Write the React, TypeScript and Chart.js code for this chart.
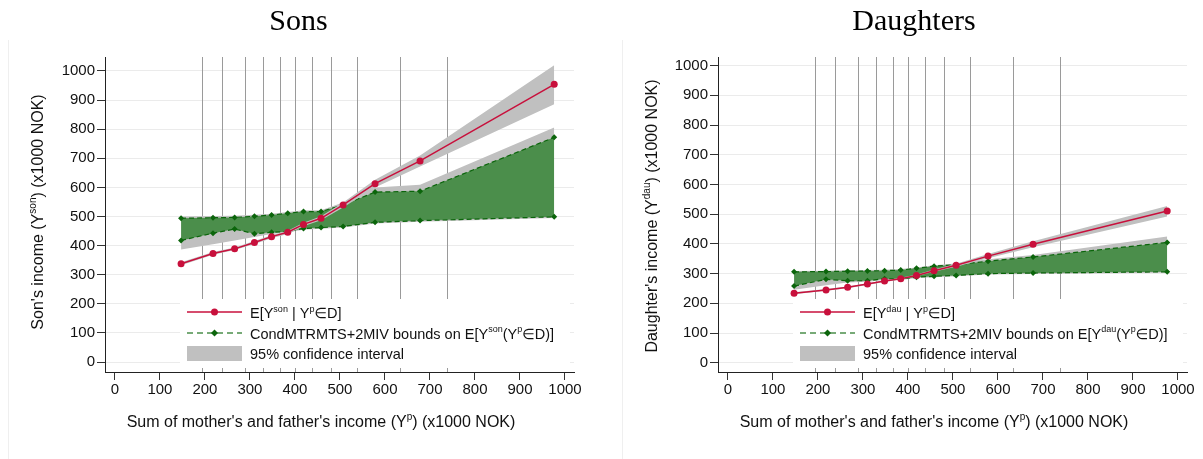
import React, { useEffect, useRef } from "react";
import { Chart, registerables } from "chart.js";

Chart.register(...registerables);

// ---------- data ----------
const parentIncome = [147, 218, 266, 310, 348, 384, 419, 458, 507, 578, 678, 976];
const binEdges = [193, 238, 289, 330, 367, 400, 438, 481, 538, 633, 738];
const axisTicks = [0, 100, 200, 300, 400, 500, 600, 700, 800, 900, 1000];

const sonMean = [338, 373, 389, 411, 431, 446, 473, 494, 540, 613, 691, 954];
const sonMeanCiLo = [333, 369, 385, 406, 425, 440, 467, 487, 531, 600, 672, 886];
const sonMeanCiHi = [343, 378, 394, 416, 436, 451, 479, 501, 548, 626, 710, 1020];
const sonBoundUpper = [494, 496, 497, 501, 505, 511, 517, 517, 540, 584, 587, 772];
const sonBoundLower = [418, 443, 457, 441, 446, 448, 459, 462, 466, 480, 486, 499];
const sonBoundCiHi = [500, 502, 503, 506, 510, 516, 522, 522, 548, 600, 609, 806];
const sonBoundCiLo = [387, 405, 418, 430, 440, 446, 455, 458, 462, 476, 482, 495];

const dauMean = [234, 245, 254, 265, 275, 283, 294, 310, 328, 359, 399, 511];
const dauMeanCiLo = [231, 242, 251, 262, 272, 280, 291, 306, 323, 352, 389, 492];
const dauMeanCiHi = [237, 248, 257, 268, 278, 286, 297, 314, 333, 366, 409, 528];
const dauBoundUpper = [306, 307, 308, 309, 310, 312, 318, 325, 330, 342, 356, 405];
const dauBoundLower = [258, 281, 276, 276, 283, 282, 288, 291, 294, 300, 302, 306];
const dauBoundCiHi = [309, 310, 311, 312, 313, 316, 321, 328, 334, 348, 363, 425];
const dauBoundCiLo = [246, 261, 270, 273, 279, 279, 285, 288, 291, 297, 299, 303];

// ---------- styles ----------
const FONT = '"Liberation Sans", "DejaVu Sans", Arial, sans-serif';
const SERIF = '"Liberation Serif", "DejaVu Serif", "Times New Roman", serif';
const RED = "#c8103c";
const GREEN_FILL = "#4b8e4b";
const GREEN_LINE = "#0b650b";
const CI_GRAY = "#c0c0c0";
const TEXT = "#111111";

type Seg = { t: string; sup?: boolean };

function segFont(size: number, sup: boolean) {
  return `${sup ? Math.round(size * 0.62) : size}px ${FONT}`;
}
function measureSegs(ctx: CanvasRenderingContext2D, segs: Seg[], size: number) {
  let w = 0;
  for (const s of segs) {
    ctx.font = segFont(size, !!s.sup);
    w += ctx.measureText(s.t).width;
  }
  return w;
}
function drawSegs(
  ctx: CanvasRenderingContext2D,
  segs: Seg[],
  x: number,
  y: number,
  size: number,
  align: "left" | "center"
) {
  const total = measureSegs(ctx, segs, size);
  let cx = align === "center" ? x - total / 2 : x;
  ctx.textAlign = "left";
  ctx.textBaseline = "alphabetic";
  for (const s of segs) {
    ctx.font = segFont(size, !!s.sup);
    ctx.fillText(s.t, cx, s.sup ? y - size * 0.42 : y);
    cx += ctx.measureText(s.t).width;
  }
}

interface PanelSpec {
  width: number;
  yAxisWidth: number;
  rightPad: number;
  yMin: number;
  yMax: number;
  title: string;
  titleX: number;
  yTitle: Seg[];
  yTitleX: number;
  yTitleY: number;
  xTitleX: number;
  legendMean: Seg[];
  legendBounds: Seg[];
  mean: number[];
  meanLo: number[];
  meanHi: number[];
  upper: number[];
  lower: number[];
  ciHi: number[];
  ciLo: number[];
}

const xTitle: Seg[] = [
  { t: "Sum of mother's and father's income (Y" },
  { t: "p", sup: true },
  { t: ") (x1000 NOK)" },
];

const sonsSpec: PanelSpec = {
  width: 614,
  yAxisWidth: 105,
  rightPad: 40,
  yMin: -34,
  yMax: 1048,
  title: "Sons",
  titleX: 298.5,
  yTitle: [{ t: "Son's income (Y" }, { t: "son", sup: true }, { t: ") (x1000 NOK)" }],
  yTitleX: 43,
  yTitleY: 212,
  xTitleX: 321,
  legendMean: [{ t: "E[Y" }, { t: "son", sup: true }, { t: " | Y" }, { t: "p", sup: true }, { t: "\u2208D]" }],
  legendBounds: [
    { t: "CondMTRMTS+2MIV bounds on E[Y" },
    { t: "son", sup: true },
    { t: "(Y" },
    { t: "p", sup: true },
    { t: "\u2208D)]" },
  ],
  mean: sonMean,
  meanLo: sonMeanCiLo,
  meanHi: sonMeanCiHi,
  upper: sonBoundUpper,
  lower: sonBoundLower,
  ciHi: sonBoundCiHi,
  ciLo: sonBoundCiLo,
};

const dauSpec: PanelSpec = {
  width: 589,
  yAxisWidth: 104,
  rightPad: 16,
  yMin: -31,
  yMax: 1029,
  title: "Daughters",
  titleX: 300,
  yTitle: [{ t: "Daughter's income (Y" }, { t: "dau", sup: true }, { t: ") (x1000 NOK)" }],
  yTitleX: 43,
  yTitleY: 216,
  xTitleX: 320,
  legendMean: [{ t: "E[Y" }, { t: "dau", sup: true }, { t: " | Y" }, { t: "p", sup: true }, { t: "\u2208D]" }],
  legendBounds: [
    { t: "CondMTRMTS+2MIV bounds on E[Y" },
    { t: "dau", sup: true },
    { t: "(Y" },
    { t: "p", sup: true },
    { t: "\u2208D)]" },
  ],
  mean: dauMean,
  meanLo: dauMeanCiLo,
  meanHi: dauMeanCiHi,
  upper: dauBoundUpper,
  lower: dauBoundLower,
  ciHi: dauBoundCiHi,
  ciLo: dauBoundCiLo,
};

const pts = (arr: number[]) => parentIncome.map((x, i) => ({ x, y: arr[i] }));

function makeOverlay(spec: PanelSpec) {
  return {
    id: "overlay",
    beforeDatasetsDraw(chart: any) {
      const { ctx, chartArea, scales } = chart;
      const xs = scales.x;
      ctx.save();
      ctx.strokeStyle = "#9a9a9a";
      ctx.lineWidth = 1;
      for (const e of binEdges) {
        const px = Math.round(xs.getPixelForValue(e)) + 0.5;
        ctx.beginPath();
        ctx.moveTo(px, chartArea.top);
        ctx.lineTo(px, chartArea.bottom);
        ctx.stroke();
      }
      ctx.restore();
    },
    afterDraw(chart: any) {
      const { ctx, chartArea } = chart;
      ctx.save();
      // panel border
      ctx.strokeStyle = "#efefef";
      ctx.lineWidth = 1;
      ctx.beginPath();
      ctx.moveTo(8.5, 40);
      ctx.lineTo(8.5, chart.height);
      ctx.stroke();

      // title
      ctx.fillStyle = "#000";
      ctx.font = `30px ${SERIF}`;
      ctx.textAlign = "center";
      ctx.textBaseline = "alphabetic";
      ctx.fillText(spec.title, spec.titleX, 29.5);

      // axis titles
      ctx.fillStyle = TEXT;
      drawSegs(ctx, xTitle, spec.xTitleX, 427, 16, "center");
      ctx.save();
      ctx.translate(spec.yTitleX, spec.yTitleY);
      ctx.rotate(-Math.PI / 2);
      drawSegs(ctx, spec.yTitle, 0, 0, 16, "center");
      ctx.restore();

      // legend
      const bx = chartArea.left + 75;
      const bxr = chartArea.right - 4;
      const byb = chartArea.bottom - 4;
      const byt = byb - 69;
      ctx.fillStyle = "#ffffff";
      ctx.fillRect(bx, byt, bxr - bx, byb - byt);

      const sx0 = bx + 7;
      const sx1 = bx + 62;
      const tx = bx + 70;
      const r1 = byt + 13;
      const r2 = byt + 34;
      // row 1 red
      ctx.strokeStyle = RED;
      ctx.lineWidth = 1.5;
      ctx.setLineDash([]);
      ctx.beginPath();
      ctx.moveTo(sx0, r1);
      ctx.lineTo(sx1, r1);
      ctx.stroke();
      ctx.fillStyle = RED;
      ctx.beginPath();
      ctx.arc((sx0 + sx1) / 2, r1, 3.5, 0, Math.PI * 2);
      ctx.fill();
      // row 2 green dashed
      ctx.strokeStyle = GREEN_FILL;
      ctx.lineWidth = 1.5;
      ctx.setLineDash([6, 4]);
      ctx.beginPath();
      ctx.moveTo(sx0, r2);
      ctx.lineTo(sx1, r2);
      ctx.stroke();
      ctx.setLineDash([]);
      ctx.fillStyle = GREEN_LINE;
      const cx = (sx0 + sx1) / 2;
      ctx.beginPath();
      ctx.moveTo(cx, r2 - 3.5);
      ctx.lineTo(cx + 3.5, r2);
      ctx.lineTo(cx, r2 + 3.5);
      ctx.lineTo(cx - 3.5, r2);
      ctx.closePath();
      ctx.fill();
      // row 3 gray box
      ctx.fillStyle = CI_GRAY;
      ctx.fillRect(sx0, byt + 47, sx1 - sx0, 15);

      ctx.fillStyle = TEXT;
      drawSegs(ctx, spec.legendMean, tx, byt + 19, 14.5, "left");
      drawSegs(ctx, spec.legendBounds, tx, byt + 39.5, 14.5, "left");
      drawSegs(ctx, [{ t: "95% confidence interval" }], tx, byt + 60, 14.5, "left");
      ctx.restore();
    },
  };
}

function makeConfig(spec: PanelSpec): any {
  return {
    type: "line",
    data: {
      datasets: [
        {
          data: pts(spec.ciHi),
          fill: "+1",
          backgroundColor: CI_GRAY,
          borderWidth: 0,
          pointRadius: 0,
          order: 10,
        },
        {
          data: pts(spec.ciLo),
          fill: false,
          borderWidth: 0,
          pointRadius: 0,
          order: 10,
        },
        {
          data: pts(spec.upper),
          fill: "+1",
          backgroundColor: GREEN_FILL,
          borderColor: GREEN_LINE,
          borderWidth: 1.2,
          borderDash: [5, 3],
          pointStyle: "rectRot",
          pointRadius: 3,
          pointBackgroundColor: GREEN_LINE,
          pointBorderColor: GREEN_LINE,
          pointBorderWidth: 0,
          order: 5,
        },
        {
          data: pts(spec.lower),
          fill: false,
          borderColor: GREEN_LINE,
          borderWidth: 1.2,
          borderDash: [5, 3],
          pointStyle: "rectRot",
          pointRadius: 3,
          pointBackgroundColor: GREEN_LINE,
          pointBorderColor: GREEN_LINE,
          pointBorderWidth: 0,
          order: 4,
        },
        {
          data: pts(spec.meanHi),
          fill: "+1",
          backgroundColor: CI_GRAY,
          borderWidth: 0,
          pointRadius: 0,
          order: 3,
        },
        {
          data: pts(spec.meanLo),
          fill: false,
          borderWidth: 0,
          pointRadius: 0,
          order: 3,
        },
        {
          data: pts(spec.mean),
          fill: false,
          borderColor: RED,
          borderWidth: 1.5,
          pointStyle: "circle",
          pointRadius: 3.5,
          pointBackgroundColor: RED,
          pointBorderColor: RED,
          pointBorderWidth: 0,
          order: 1,
        },
      ],
    },
    options: {
      responsive: false,
      animation: false,
      events: [],
      layout: { padding: { left: 0, top: 57, right: spec.rightPad, bottom: 0 } },
      plugins: {
        legend: { display: false },
        title: { display: false },
        tooltip: { enabled: false },
      },
      elements: { line: { tension: 0 } },
      scales: {
        x: {
          type: "linear",
          min: -22,
          max: 1020,
          afterBuildTicks: (s: any) => {
            s.ticks = axisTicks.map((v) => ({ value: v }));
          },
          afterFit: (s: any) => {
            s.height = 87;
          },
          grid: {
            drawOnChartArea: false,
            drawTicks: true,
            tickLength: 8,
            tickColor: "#333",
          },
          border: { display: true, color: "#222", width: 1 },
          ticks: {
            autoSkip: false,
            maxRotation: 0,
            padding: 1,
            color: TEXT,
            font: { family: FONT, size: 15 },
            callback: (v: any) => String(v),
          },
        },
        y: {
          type: "linear",
          min: spec.yMin,
          max: spec.yMax,
          afterBuildTicks: (s: any) => {
            s.ticks = axisTicks.map((v) => ({ value: v }));
          },
          afterFit: (s: any) => {
            s.width = spec.yAxisWidth;
          },
          grid: {
            color: "#ebebeb",
            lineWidth: 1,
            drawTicks: true,
            tickLength: 8,
            tickColor: "#333",
          },
          border: { display: true, color: "#222", width: 1 },
          ticks: {
            padding: 2,
            color: TEXT,
            font: { family: FONT, size: 15 },
            callback: (v: any) => String(v),
          },
        },
      },
    },
    plugins: [makeOverlay(spec)],
  };
}

function Panel({ spec, left }: { spec: PanelSpec; left: number }) {
  const ref = useRef<HTMLCanvasElement | null>(null);
  useEffect(() => {
    if (!ref.current) return;
    const chart = new Chart(ref.current, makeConfig(spec));
    return () => chart.destroy();
  }, [spec]);
  return (
    <canvas
      ref={ref}
      width={spec.width}
      height={459}
      style={{ position: "absolute", left, top: 0, width: spec.width, height: 459, display: "block" }}
    />
  );
}

export default function App() {
  return (
    <div style={{ position: "absolute", left: 0, top: 0, width: 1203, height: 459, background: "#fff" }}>
      <Panel spec={sonsSpec} left={0} />
      <Panel spec={dauSpec} left={614} />
    </div>
  );
}
